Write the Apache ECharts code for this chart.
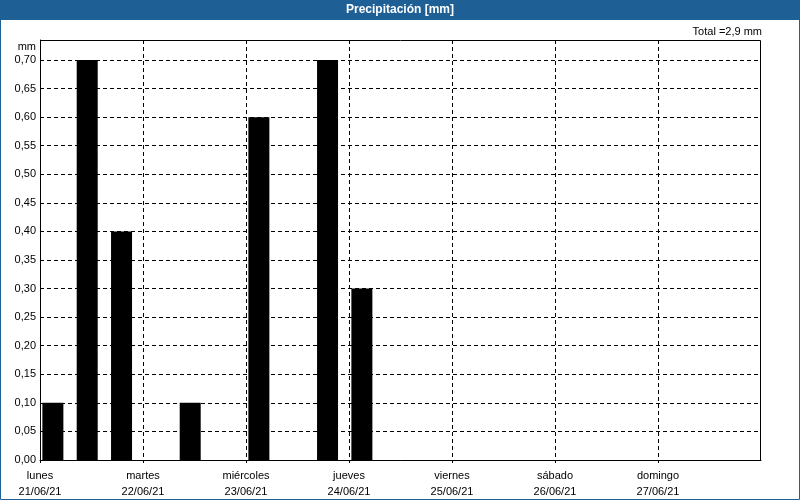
<!DOCTYPE html>
<html>
<head>
<meta charset="utf-8">
<script src="https://cdn.jsdelivr.net/npm/echarts@6/dist/echarts.min.js"></script>
<style>html,body{margin:0;padding:0;background:#fff}#c{width:800px;height:500px}</style>
</head>
<body>
<div id="c"></div>
<script>
const dayNames = ['lunes','martes','miércoles','jueves','viernes','sábado','domingo'];
const dayDates = ['21/06/21','22/06/21','23/06/21','24/06/21','25/06/21','26/06/21','27/06/21'];
// bar centre, hours from 21/06/21 00:00 (8-hour periods)
const barHours = [3, 11, 19, 35, 51, 67, 75];
const barValues = [0.1, 0.7, 0.4, 0.1, 0.6, 0.7, 0.3];

const total = barValues.reduce((a, b) => a + b, 0);
const FONT = 'Liberation Sans';
const chart = echarts.init(document.getElementById('c'), null, {renderer: 'canvas'});
chart.setOption({
  backgroundColor: '#ffffff',
  animation: false,
  textStyle: {fontFamily: FONT},
  graphic: [
    {type: 'rect', shape: {x: 0, y: 0, width: 800, height: 20}, style: {fill: '#1e6096'}, z: -1},
    {type: 'rect', shape: {x: 0.5, y: 0.5, width: 799, height: 499}, style: {fill: null, stroke: '#1e6096', lineWidth: 1}, z: 10},
    {type: 'rect', shape: {x: 40.5, y: 40.5, width: 720, height: 420}, style: {fill: null, stroke: '#000', lineWidth: 1}, z: 10}
  ],
  title: [
    {text: 'Precipitación [mm]', left: 'center', top: 4, padding: 0,
     textStyle: {color: '#ffffff', fontSize: 12, fontWeight: 'bold', fontFamily: FONT}},
    {text: 'Total =' + total.toFixed(1).replace('.', ',') + ' mm', right: 38, top: 26, padding: 0,
     textStyle: {color: '#000', fontSize: 11, fontWeight: 'normal', fontFamily: FONT}}
  ],
  grid: {left: 40, right: 39, top: 40, bottom: 40, show: false},
  xAxis: {
    type: 'value', min: 0, max: 168, interval: 24,
    axisLine: {show: true, lineStyle: {color: '#000', width: 1}},
    axisTick: {show: true, length: 3, lineStyle: {color: '#000'}},
    splitLine: {show: true, showMinLine: false, showMaxLine: false, lineStyle: {color: '#000', type: [4, 3], width: 1}},
    axisLabel: {
      color: '#000', fontSize: 11, fontFamily: FONT, margin: 8, lineHeight: 16,
      showMaxLabel: false,
      formatter: v => {
        const i = Math.round(v / 24);
        if (i < 0 || i >= dayNames.length) return '';
        return dayNames[i] + '\n' + dayDates[i];
      }
    }
  },
  yAxis: {
    type: 'value', min: 0, max: 0.735, interval: 0.05,
    name: 'mm', nameLocation: 'end', nameGap: -7,
    nameTextStyle: {color: '#000', fontSize: 11, fontFamily: FONT, align: 'right', verticalAlign: 'middle', padding: [0, 4, 0, 0]},
    axisLine: {show: true, lineStyle: {color: '#000', width: 1}},
    axisTick: {show: false},
    splitLine: {show: true, showMinLine: false, showMaxLine: false, lineStyle: {color: '#000', type: [4, 3], width: 1}},
    axisLabel: {
      color: '#000', fontSize: 11, fontFamily: FONT, margin: 4, showMaxLabel: false,
      padding: [2, 0, 0, 0],
      formatter: v => {
        const k = Math.round(v / 0.05);
        if (Math.abs(v - k * 0.05) > 1e-6) return '';
        return (k * 0.05).toFixed(2).replace('.', ',');
      }
    }
  },
  series: [{
    type: 'bar',
    data: barHours.map((h, i) => [h, barValues[i]]),
    barWidth: 21,
    itemStyle: {color: '#000'},
    z: 5
  }]
});
</script>
</body>
</html>
